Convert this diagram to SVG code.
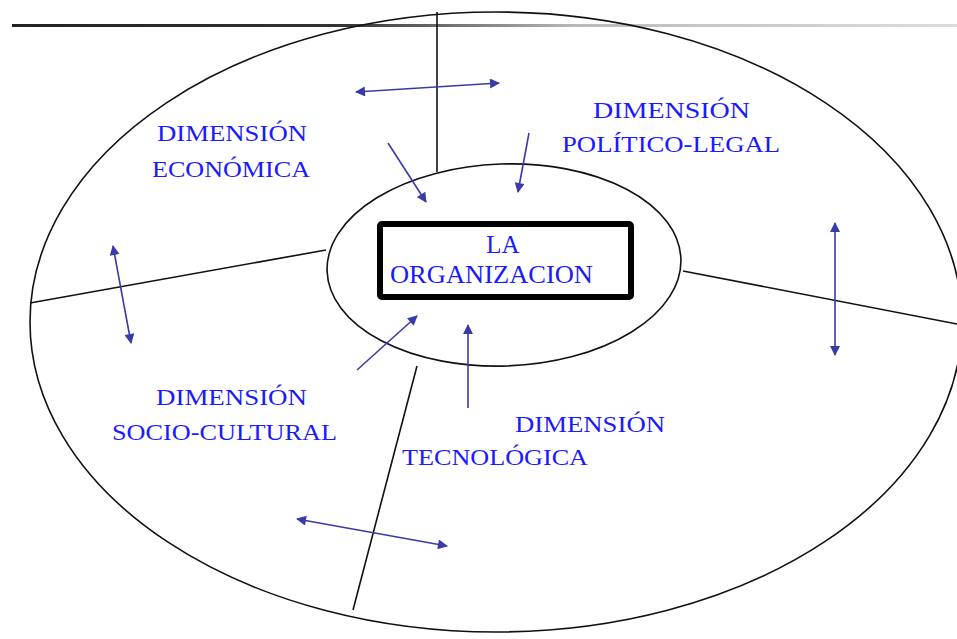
<svg xmlns="http://www.w3.org/2000/svg" width="957" height="639" viewBox="0 0 957 639">
<style>
.ln{fill:none;stroke:#111;stroke-width:1.6}
.ar{fill:none;stroke:#3a3aa8;stroke-width:1.6}
.lb{font-family:"Liberation Serif","Times New Roman",serif;fill:#1a1aff;font-size:23px}
.ctr{font-family:"Liberation Serif","Times New Roman",serif;fill:#1a1aff;font-size:25px}
</style>
<defs>
<linearGradient id="topg" gradientUnits="userSpaceOnUse" x1="12" y1="0" x2="957" y2="0">
<stop offset="0" stop-color="#222"/>
<stop offset="0.35" stop-color="#333"/>
<stop offset="0.6" stop-color="#bbb"/>
<stop offset="1" stop-color="#ddd"/>
</linearGradient>
<marker id="ah" viewBox="0 0 10 10" refX="9" refY="5" markerWidth="11" markerHeight="10" markerUnits="userSpaceOnUse" orient="auto-start-reverse">
<path d="M0,0 L10,5 L0,10 z" fill="#3a3aa8"/>
</marker>
</defs>
<rect width="957" height="639" fill="#fff"/>
<g id="topline"><rect x="12" y="24" width="945" height="3" fill="url(#topg)"/></g>
<g id="entorno"><ellipse class="ln" cx="496" cy="322" rx="466" ry="310"/></g>
<g id="separadores">
<line class="ln" x1="437" y1="12" x2="437" y2="172"/>
<line class="ln" x1="30" y1="303" x2="326" y2="250"/>
<line class="ln" x1="683" y1="271" x2="957" y2="324"/>
<line class="ln" x1="417" y1="366" x2="353" y2="610"/>
</g>
<g id="organizacion">
<ellipse class="ln" cx="504" cy="265" rx="177" ry="101" transform="rotate(-2 504 265)"/>
<rect x="380" y="224" width="251" height="73" rx="2" fill="none" stroke="#000" stroke-width="6"/>
<text class="ctr" x="503" y="253" text-anchor="middle">LA</text>
<text class="ctr" x="390" y="283" textLength="203" lengthAdjust="spacingAndGlyphs">ORGANIZACION</text>
</g>
<g id="dim-economica">
<text class="lb" x="157" y="141" textLength="150" lengthAdjust="spacingAndGlyphs">DIMENSIÓN</text>
<text class="lb" x="152" y="177" textLength="158" lengthAdjust="spacingAndGlyphs">ECONÓMICA</text>
</g>
<g id="dim-politico">
<text class="lb" x="593" y="118" textLength="157" lengthAdjust="spacingAndGlyphs">DIMENSIÓN</text>
<text class="lb" x="562" y="152" textLength="218" lengthAdjust="spacingAndGlyphs">POLÍTICO-LEGAL</text>
</g>
<g id="dim-sociocultural">
<text class="lb" x="156" y="405" textLength="151" lengthAdjust="spacingAndGlyphs">DIMENSIÓN</text>
<text class="lb" x="112" y="440" textLength="225" lengthAdjust="spacingAndGlyphs">SOCIO-CULTURAL</text>
</g>
<g id="dim-tecnologica">
<text class="lb" x="515" y="432" textLength="150" lengthAdjust="spacingAndGlyphs">DIMENSIÓN</text>
<text class="lb" x="402" y="465" textLength="186" lengthAdjust="spacingAndGlyphs">TECNOLÓGICA</text>
</g>
<g id="conectores">
<line class="ar" x1="356" y1="92" x2="499" y2="83" marker-start="url(#ah)" marker-end="url(#ah)"/>
<line class="ar" x1="388" y1="143" x2="426" y2="202" marker-end="url(#ah)"/>
<line class="ar" x1="529" y1="133" x2="518" y2="192" marker-end="url(#ah)"/>
<line class="ar" x1="113" y1="246" x2="131" y2="343" marker-start="url(#ah)" marker-end="url(#ah)"/>
<line class="ar" x1="835" y1="223" x2="835" y2="355" marker-start="url(#ah)" marker-end="url(#ah)"/>
<line class="ar" x1="297" y1="519" x2="447" y2="546" marker-start="url(#ah)" marker-end="url(#ah)"/>
<line class="ar" x1="357" y1="370" x2="417" y2="316" marker-end="url(#ah)"/>
<line class="ar" x1="468" y1="408" x2="468" y2="325" marker-end="url(#ah)"/>
</g>
</svg>
